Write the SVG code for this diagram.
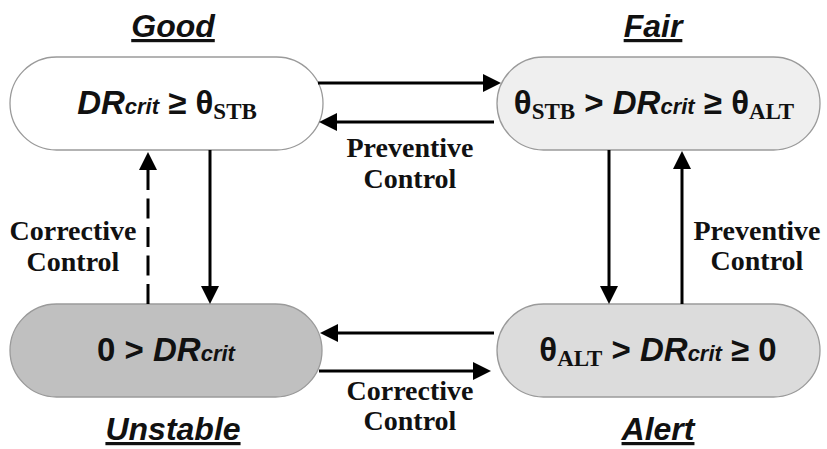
<svg xmlns="http://www.w3.org/2000/svg" width="827" height="449" viewBox="0 0 827 449">
  <defs>
    <marker id="head" markerUnits="userSpaceOnUse" markerWidth="18" markerHeight="18" viewBox="0 0 18 18" refX="0" refY="9" orient="auto">
      <path d="M0,0 L18,9 L0,18 z" fill="#000"/>
    </marker>
    <style>
      .node { stroke: #9a9a9a; stroke-width: 1.3; }
      .expr { font-family: "Liberation Sans", Arial, sans-serif; font-weight: bold; font-size: 33px; fill: #111; }
      .it { font-style: italic; }
      .sm { font-size: 22px; }
      .sub { font-family: "Liberation Serif", "Times New Roman", serif; font-size: 23px; }
      .title { font-family: "Liberation Sans", Arial, sans-serif; font-weight: bold; font-style: italic; font-size: 32px; fill: #111; text-decoration: underline; }
      .lbl { font-family: "Liberation Serif", "Times New Roman", serif; font-weight: bold; font-size: 28px; fill: #111; }
      .arrow { stroke: #000; stroke-width: 3; fill: none; marker-end: url(#head); }
      .dash { stroke-dasharray: 20 8.5; }
    </style>
  </defs>

  <!-- state titles -->
  <text class="title" x="173" y="37" text-anchor="middle">Good</text>
  <text class="title" x="653" y="37" text-anchor="middle">Fair</text>
  <text class="title" x="173" y="440" text-anchor="middle">Unstable</text>
  <text class="title" x="658" y="440" text-anchor="middle">Alert</text>

  <!-- states -->
  <g id="good">
    <rect class="node" x="10" y="57" width="313" height="93" rx="46.5" fill="#ffffff"/>
    <text class="expr" x="167" y="114" text-anchor="middle"><tspan class="it">DR</tspan><tspan class="it sm">crit</tspan> ≥ θ<tspan class="sub" dy="5">STB</tspan></text>
  </g>
  <g id="fair">
    <rect class="node" x="497" y="57" width="323" height="93" rx="46.5" fill="#efefef"/>
    <text class="expr" x="654" y="114" text-anchor="middle">θ<tspan class="sub" dy="5">STB</tspan><tspan dy="-5"> &gt; </tspan><tspan class="it">DR</tspan><tspan class="it sm">crit</tspan> ≥ θ<tspan class="sub" dy="5">ALT</tspan></text>
  </g>
  <g id="unstable">
    <rect class="node" x="10" y="304" width="312" height="93" rx="46.5" fill="#c0c0c0"/>
    <text class="expr" x="166" y="361" text-anchor="middle">0 &gt; <tspan class="it">DR</tspan><tspan class="it sm">crit</tspan></text>
  </g>
  <g id="alert">
    <rect class="node" x="497" y="304" width="323" height="93" rx="46.5" fill="#dcdcdc"/>
    <text class="expr" x="658" y="361" text-anchor="middle">θ<tspan class="sub" dy="5">ALT</tspan><tspan dy="-5"> &gt; </tspan><tspan class="it">DR</tspan><tspan class="it sm">crit</tspan> ≥ 0</text>
  </g>

  <!-- transitions -->
  <g id="connectors">
    <line class="arrow" x1="318" y1="83" x2="483" y2="83"/>
    <line class="arrow" x1="494" y1="122" x2="337" y2="122"/>
    <line class="arrow" x1="210" y1="150" x2="210" y2="286"/>
    <line class="arrow dash" x1="148" y1="304" x2="148" y2="170"/>
    <line class="arrow" x1="609" y1="150" x2="609" y2="286"/>
    <line class="arrow" x1="682" y1="304" x2="682" y2="169"/>
    <line class="arrow" x1="494" y1="333" x2="338" y2="333"/>
    <line class="arrow" x1="319" y1="371" x2="473" y2="371"/>
  </g>

  <!-- transition labels -->
  <text class="lbl" text-anchor="middle"><tspan x="410" y="157">Preventive</tspan><tspan x="410" y="188">Control</tspan></text>
  <text class="lbl" text-anchor="middle"><tspan x="73" y="240">Corrective</tspan><tspan x="73" y="271">Control</tspan></text>
  <text class="lbl" text-anchor="middle"><tspan x="757" y="240">Preventive</tspan><tspan x="757" y="270">Control</tspan></text>
  <text class="lbl" text-anchor="middle"><tspan x="410" y="400">Corrective</tspan><tspan x="410" y="430">Control</tspan></text>
</svg>
